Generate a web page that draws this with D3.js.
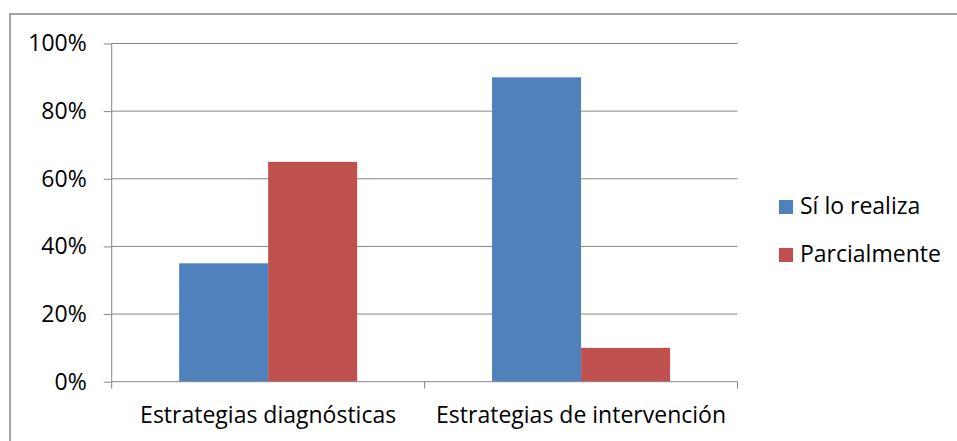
<!DOCTYPE html>
<html><head><meta charset="utf-8">
<script src="https://cdn.jsdelivr.net/npm/d3@7"></script>
<style>body{margin:0;background:#fff}svg{display:block}text{font-family:"Open Sans",sans-serif;fill:#000}</style>
</head><body><svg id="c" width="957" height="441"></svg>
<script>
const categories = ["Estrategias diagnósticas", "Estrategias de intervención"];
const seriesNames = ["Sí lo realiza", "Parcialmente"];
const siLoRealiza = [35, 90];
const parcialmente = [65, 10];
const yTicks = [0, 20, 40, 60, 80, 100];
const colors = ["#4F81BD", "#C0504D"];

const svg = d3.select("#c");
const fs = 23;
svg.append("rect").attr("x",10).attr("y",14).attr("width",960).attr("height",440)
  .attr("fill","none").attr("stroke","#868686").attr("stroke-width",1.5);

const L=111.7, R=737.5, T=43.5, B=381.7;
const y = d3.scaleLinear().domain([0,100]).range([B,T]);
const x0 = d3.scaleBand().domain(categories).range([L,R]).paddingInner(0).paddingOuter(0);
const x1 = d3.scaleBand().domain(seriesNames).range([0,x0.bandwidth()]).paddingOuter(0.758).paddingInner(0);

// gridlines
svg.append("g").selectAll("line").data(yTicks.filter(d=>d>0)).join("line")
  .attr("x1",L).attr("x2",R).attr("y1",d=>y(d)).attr("y2",d=>y(d))
  .attr("stroke","#868686").attr("stroke-width",1);

const series = [siLoRealiza, parcialmente];
const g = svg.append("g");
categories.forEach((c,i)=>{
  seriesNames.forEach((s,j)=>{
    g.append("rect").attr("x",x0(c)+x1(s)).attr("width",x1.bandwidth())
      .attr("y",y(series[j][i])).attr("height",B-y(series[j][i])).attr("fill",colors[j]);
  });
});

// y axis
const ya = svg.append("g").attr("transform",`translate(${L},0)`)
  .call(d3.axisLeft(y).tickValues(yTicks).tickFormat(d=>d+"%").tickSize(8).tickPadding(17));
ya.attr("font-size",null).attr("font-family",null);
ya.select(".domain").attr("stroke","#868686").attr("d",`M0,${T}V${B}`);
ya.selectAll(".tick line").attr("stroke","#868686");
ya.selectAll("text").attr("font-size",fs).attr("fill","#000");

// x axis
const xa = svg.append("g").attr("transform",`translate(0,${B})`);
xa.append("line").attr("x1",L).attr("x2",R).attr("stroke","#868686");
xa.selectAll(".tk").data([L, ...categories.map(c=>x0(c)+x0.bandwidth())]).join("line")
  .attr("x1",d=>d).attr("x2",d=>d).attr("y1",0).attr("y2",7).attr("stroke","#868686");
xa.selectAll(".lbl").data(categories).join("text")
  .attr("x",c=>x0(c)+x0.bandwidth()/2).attr("y",41).attr("text-anchor","middle")
  .attr("font-size",fs).text(d=>d);

// legend
const lg = svg.append("g");
seriesNames.forEach((s,j)=>{
  lg.append("rect").attr("x",779).attr("y",200+j*48).attr("width",14).attr("height",14).attr("fill",colors[j]);
  lg.append("text").attr("x",800).attr("y",214+j*48).attr("font-size",fs).text(s);
});
</script></body></html>
